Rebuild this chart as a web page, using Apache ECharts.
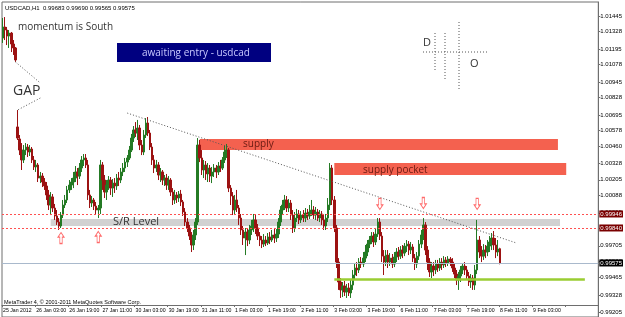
<!DOCTYPE html>
<html>
<head>
<meta charset="utf-8">
<script src="https://cdn.jsdelivr.net/npm/echarts@6/dist/echarts.min.js"></script>
<style>
  html, body { margin: 0; padding: 0; background: #fff; }
  #chart-container { width: 625px; height: 317px; }
</style>
</head>
<body>
<div id="chart-container"></div>
<script>
var dom = document.getElementById("chart-container");
var myChart = echarts.init(dom, null, { renderer: "canvas", useDirtyRect: false });

// header of the MT4 window: symbol, period and OHLC of the last bar
const header = "USDCAD,H1  0.99683 0.99690 0.99565 0.99575";

// time scale labels, one every 16 hourly bars (the last one sits in the shift area)
const tickLabels = [
  "25 Jan 2012", "26 Jan 03:00", "26 Jan 19:00", "27 Jan 11:00", "30 Jan 03:00",
  "30 Jan 19:00", "31 Jan 11:00", "1 Feb 03:00", "1 Feb 19:00", "2 Feb 11:00",
  "3 Feb 03:00", "3 Feb 19:00", "6 Feb 11:00", "7 Feb 03:00", "7 Feb 19:00",
  "8 Feb 11:00", "9 Feb 03:00"
];

// price scale labels
const priceLabels = [
  1.01445, 1.01328, 1.01195, 1.01078, 1.00945, 1.00828, 1.00695, 1.00578, 1.00460,
  1.00328, 1.00205, 1.00088, 0.99955, 0.99838, 0.99705, 0.99588, 0.99465, 0.99328, 0.99205
];

// H1 bars: [open, close, low, high]
const ohlc = [
  [1.01278, 1.01362, 1.01241, 1.01430], [1.01362, 1.01339, 1.01263, 1.01437],
  [1.01339, 1.01293, 1.01225, 1.01362], [1.01293, 1.01316, 1.01203, 1.01339],
  [1.01316, 1.01233, 1.01172, 1.01324], [1.01233, 1.01203, 1.01150, 1.01263],
  [1.01203, 1.01112, 1.01097, 1.01210], [1.00605, 1.00521, 1.00506, 1.00733],
  [1.00514, 1.00430, 1.00392, 1.00544], [1.00430, 1.00355, 1.00279, 1.00483],
  // 10
  [1.00355, 1.00430, 1.00332, 1.00468], [1.00430, 1.00453, 1.00392, 1.00483],
  [1.00453, 1.00415, 1.00377, 1.00476], [1.00415, 1.00438, 1.00385, 1.00468],
  [1.00438, 1.00355, 1.00332, 1.00453], [1.00355, 1.00302, 1.00279, 1.00385],
  [1.00302, 1.00317, 1.00264, 1.00355], [1.00317, 1.00218, 1.00188, 1.00332],
  [1.00218, 1.00233, 1.00180, 1.00264], [1.00233, 1.00188, 1.00150, 1.00256],
  // 20
  [1.00188, 1.00158, 1.00128, 1.00218], [1.00158, 1.00090, 1.00052, 1.00188],
  [1.00090, 1.00014, 0.99976, 1.00128], [1.00014, 1.00075, 0.99938, 1.00112],
  [1.00075, 0.99991, 0.99961, 1.00097], [0.99991, 0.99931, 0.99901, 1.00022],
  [0.99931, 0.99885, 0.99863, 0.99976], [0.99885, 0.99855, 0.99825, 0.99915],
  [0.99855, 0.99938, 0.99840, 0.99961], [0.99938, 1.00014, 0.99915, 1.00052],
  // 30
  [1.00014, 1.00052, 0.99991, 1.00090], [1.00052, 1.00128, 1.00029, 1.00158],
  [1.00128, 1.00165, 1.00105, 1.00203], [1.00165, 1.00188, 1.00128, 1.00218],
  [1.00188, 1.00218, 1.00142, 1.00264], [1.00218, 1.00264, 1.00188, 1.00309],
  [1.00264, 1.00233, 1.00165, 1.00294], [1.00233, 1.00294, 1.00211, 1.00332],
  [1.00294, 1.00355, 1.00264, 1.00385], [1.00355, 1.00370, 1.00309, 1.00400],
  // 40
  [1.00370, 1.00317, 1.00294, 1.00400], [1.00317, 1.00090, 1.00052, 1.00355],
  [1.00090, 1.00029, 0.99991, 1.00128], [1.00029, 1.00052, 0.99999, 1.00082],
  [1.00052, 1.00006, 0.99976, 1.00067], [1.00006, 0.99976, 0.99946, 1.00037],
  [0.99976, 0.99991, 0.99915, 1.00014], [0.99991, 1.00317, 0.99946, 1.00355],
  [1.00317, 1.00203, 1.00128, 1.00339], [1.00203, 1.00112, 1.00067, 1.00241],
  // 50
  [1.00112, 1.00165, 1.00052, 1.00203], [1.00165, 1.00203, 1.00128, 1.00233],
  [1.00203, 1.00142, 1.00090, 1.00226], [1.00142, 1.00180, 1.00075, 1.00211],
  [1.00180, 1.00158, 1.00105, 1.00218], [1.00158, 1.00218, 1.00128, 1.00249],
  [1.00218, 1.00203, 1.00158, 1.00264], [1.00203, 1.00264, 1.00180, 1.00294],
  [1.00264, 1.00294, 1.00233, 1.00332], [1.00294, 1.00339, 1.00264, 1.00370],
  // 60
  [1.00339, 1.00370, 1.00302, 1.00392], [1.00370, 1.00430, 1.00355, 1.00461],
  [1.00430, 1.00521, 1.00415, 1.00552], [1.00521, 1.00582, 1.00491, 1.00612],
  [1.00582, 1.00559, 1.00529, 1.00642], [1.00559, 1.00597, 1.00506, 1.00658],
  [1.00597, 1.00468, 1.00430, 1.00620], [1.00468, 1.00415, 1.00392, 1.00506],
  [1.00415, 1.00544, 1.00392, 1.00582], [1.00544, 1.00635, 1.00521, 1.00672],
  // 70
  [1.00635, 1.00559, 1.00536, 1.00680], [1.00559, 1.00453, 1.00430, 1.00582],
  [1.00453, 1.00355, 1.00317, 1.00483], [1.00355, 1.00294, 1.00256, 1.00392],
  [1.00294, 1.00317, 1.00264, 1.00355], [1.00317, 1.00241, 1.00203, 1.00339],
  [1.00241, 1.00264, 1.00188, 1.00294], [1.00264, 1.00203, 1.00165, 1.00279],
  [1.00203, 1.00218, 1.00158, 1.00241], [1.00218, 1.00165, 1.00128, 1.00249],
  // 80
  [1.00165, 1.00203, 1.00128, 1.00233], [1.00203, 1.00112, 1.00082, 1.00218],
  [1.00112, 1.00052, 1.00014, 1.00142], [1.00052, 1.00090, 1.00022, 1.00128],
  [1.00090, 1.00067, 1.00029, 1.00112], [1.00067, 1.00097, 1.00037, 1.00120],
  [1.00097, 1.00037, 1.00006, 1.00128], [1.00037, 0.99961, 0.99931, 1.00052],
  [0.99961, 0.99885, 0.99855, 0.99991], [0.99885, 0.99840, 0.99809, 0.99915],
  // 90
  [0.99840, 0.99779, 0.99749, 0.99863], [0.99779, 0.99711, 0.99658, 0.99809],
  [0.99711, 0.99787, 0.99673, 0.99825], [0.99787, 0.99885, 0.99749, 0.99915],
  [0.99885, 1.00468, 0.99863, 1.00521], [1.00468, 1.00370, 1.00339, 1.00506],
  [1.00370, 1.00279, 1.00241, 1.00430], [1.00279, 1.00317, 1.00218, 1.00355],
  [1.00317, 1.00249, 1.00203, 1.00347], [1.00249, 1.00294, 1.00188, 1.00332],
  // 100
  [1.00294, 1.00233, 1.00188, 1.00317], [1.00233, 1.00264, 1.00180, 1.00302],
  [1.00264, 1.00294, 1.00226, 1.00324], [1.00294, 1.00264, 1.00218, 1.00317],
  [1.00264, 1.00309, 1.00241, 1.00339], [1.00309, 1.00294, 1.00264, 1.00355],
  [1.00294, 1.00355, 1.00279, 1.00377], [1.00355, 1.00415, 1.00332, 1.00461],
  [1.00415, 1.00430, 1.00370, 1.00476], [1.00430, 1.00142, 1.00112, 1.00445],
  // 110
  [1.00142, 1.00082, 1.00014, 1.00165], [1.00082, 0.99976, 0.99938, 1.00112],
  [0.99976, 1.00052, 0.99938, 1.00090], [1.00052, 0.99991, 0.99961, 1.00128],
  [0.99991, 0.99915, 0.99863, 1.00014], [0.99915, 0.99825, 0.99787, 0.99946],
  [0.99825, 0.99764, 0.99711, 0.99855], [0.99764, 0.99809, 0.99635, 0.99840],
  [0.99809, 0.99749, 0.99703, 0.99840], [0.99749, 0.99825, 0.99718, 0.99863],
  // 120
  [0.99825, 0.99855, 0.99787, 0.99901], [0.99855, 0.99901, 0.99809, 0.99946],
  [0.99901, 0.99840, 0.99794, 0.99938], [0.99840, 0.99779, 0.99749, 0.99870],
  [0.99779, 0.99749, 0.99703, 0.99809], [0.99749, 0.99718, 0.99688, 0.99779],
  [0.99718, 0.99749, 0.99696, 0.99794], [0.99749, 0.99726, 0.99703, 0.99779],
  [0.99726, 0.99772, 0.99711, 0.99802], [0.99772, 0.99749, 0.99718, 0.99809],
  // 130
  [0.99749, 0.99787, 0.99734, 0.99825], [0.99787, 0.99764, 0.99726, 0.99840],
  [0.99764, 0.99794, 0.99734, 0.99832], [0.99794, 0.99885, 0.99764, 0.99915],
  [0.99885, 0.99976, 0.99855, 1.00006], [0.99976, 1.00014, 0.99938, 1.00052],
  [1.00014, 1.00052, 0.99976, 1.00090], [1.00052, 0.99991, 0.99961, 1.00082],
  [0.99991, 1.00029, 0.99961, 1.00059], [1.00029, 0.99938, 0.99901, 1.00052],
  // 140
  [0.99938, 0.99840, 0.99802, 0.99976], [0.99840, 0.99915, 0.99809, 0.99961],
  [0.99915, 0.99946, 0.99885, 0.99984], [0.99946, 0.99901, 0.99870, 0.99976],
  [0.99901, 0.99938, 0.99878, 0.99968], [0.99938, 0.99915, 0.99885, 0.99976],
  [0.99915, 0.99953, 0.99885, 0.99991], [0.99953, 0.99931, 0.99901, 0.99984],
  [0.99931, 0.99961, 0.99908, 1.00014], [0.99961, 0.99976, 0.99931, 1.00052],
  // 150
  [0.99976, 0.99938, 0.99908, 1.00006], [0.99938, 0.99961, 0.99901, 0.99999],
  [0.99961, 0.99915, 0.99893, 0.99984], [0.99915, 0.99946, 0.99885, 0.99976],
  [0.99946, 0.99901, 0.99863, 0.99968], [0.99901, 0.99855, 0.99825, 0.99938],
  [0.99855, 0.99915, 0.99825, 0.99946], [0.99915, 1.00014, 0.99885, 1.00067],
  [1.00014, 1.00294, 0.99976, 1.00332], [1.00294, 1.00052, 1.00014, 1.00317],
  // 160
  [1.00052, 0.99840, 0.99809, 1.00082], [0.99840, 0.99582, 0.99537, 0.99863],
  [0.99582, 0.99431, 0.99371, 0.99612], [0.99431, 0.99371, 0.99310, 0.99461],
  [0.99371, 0.99401, 0.99317, 0.99431], [0.99401, 0.99355, 0.99325, 0.99439],
  [0.99355, 0.99386, 0.99310, 0.99416], [0.99386, 0.99348, 0.99325, 0.99423],
  [0.99348, 0.99408, 0.99310, 0.99446], [0.99408, 0.99484, 0.99371, 0.99522],
  // 170
  [0.99484, 0.99537, 0.99446, 0.99575], [0.99537, 0.99522, 0.99476, 0.99582],
  [0.99522, 0.99582, 0.99499, 0.99612], [0.99582, 0.99567, 0.99537, 0.99620],
  [0.99567, 0.99612, 0.99544, 0.99658], [0.99612, 0.99658, 0.99582, 0.99711],
  [0.99658, 0.99718, 0.99627, 0.99749], [0.99718, 0.99749, 0.99688, 0.99779],
  [0.99749, 0.99779, 0.99718, 0.99809], [0.99779, 0.99734, 0.99696, 0.99809],
  // 180
  [0.99734, 0.99794, 0.99711, 0.99840], [0.99794, 0.99885, 0.99772, 0.99915],
  [0.99885, 0.99779, 0.99749, 0.99915], [0.99779, 0.99627, 0.99582, 0.99809],
  [0.99627, 0.99582, 0.99484, 0.99673], [0.99582, 0.99635, 0.99552, 0.99673],
  [0.99635, 0.99582, 0.99537, 0.99673], [0.99582, 0.99612, 0.99552, 0.99650],
  [0.99612, 0.99567, 0.99537, 0.99643], [0.99567, 0.99620, 0.99544, 0.99658],
  // 190
  [0.99620, 0.99658, 0.99582, 0.99688], [0.99658, 0.99627, 0.99598, 0.99696],
  [0.99627, 0.99673, 0.99605, 0.99703], [0.99673, 0.99650, 0.99612, 0.99711],
  [0.99650, 0.99703, 0.99627, 0.99726], [0.99703, 0.99718, 0.99658, 0.99749],
  [0.99718, 0.99673, 0.99635, 0.99741], [0.99673, 0.99696, 0.99643, 0.99734],
  [0.99696, 0.99612, 0.99582, 0.99718], [0.99612, 0.99567, 0.99522, 0.99643],
  // 200
  [0.99567, 0.99627, 0.99537, 0.99658], [0.99627, 0.99718, 0.99598, 0.99749],
  [0.99718, 0.99787, 0.99688, 0.99825], [0.99787, 0.99863, 0.99749, 0.99915],
  [0.99863, 0.99673, 0.99635, 0.99885], [0.99673, 0.99582, 0.99522, 0.99703],
  [0.99582, 0.99507, 0.99469, 0.99612], [0.99507, 0.99552, 0.99461, 0.99582],
  [0.99552, 0.99522, 0.99476, 0.99582], [0.99522, 0.99567, 0.99491, 0.99598],
  // 210
  [0.99567, 0.99537, 0.99507, 0.99598], [0.99537, 0.99582, 0.99514, 0.99612],
  [0.99582, 0.99560, 0.99522, 0.99612], [0.99560, 0.99598, 0.99537, 0.99627],
  [0.99598, 0.99575, 0.99544, 0.99620], [0.99575, 0.99605, 0.99552, 0.99627],
  [0.99605, 0.99582, 0.99552, 0.99620], [0.99582, 0.99537, 0.99507, 0.99612],
  [0.99537, 0.99491, 0.99461, 0.99567], [0.99491, 0.99446, 0.99408, 0.99522],
  // 220
  [0.99446, 0.99476, 0.99371, 0.99507], [0.99476, 0.99522, 0.99431, 0.99552],
  [0.99522, 0.99552, 0.99491, 0.99575], [0.99552, 0.99522, 0.99484, 0.99582],
  [0.99522, 0.99476, 0.99446, 0.99552], [0.99476, 0.99431, 0.99401, 0.99507],
  [0.99431, 0.99461, 0.99386, 0.99491], [0.99461, 0.99408, 0.99371, 0.99484],
  [0.99408, 0.99522, 0.99371, 0.99560], [0.99522, 0.99749, 0.99491, 0.99901],
  // 230
  [0.99749, 0.99658, 0.99612, 0.99779], [0.99658, 0.99627, 0.99582, 0.99703],
  [0.99627, 0.99673, 0.99598, 0.99718], [0.99673, 0.99658, 0.99612, 0.99711],
  [0.99658, 0.99703, 0.99627, 0.99749], [0.99703, 0.99734, 0.99658, 0.99779],
  [0.99734, 0.99764, 0.99673, 0.99802], [0.99764, 0.99711, 0.99673, 0.99817],
  [0.99711, 0.99658, 0.99612, 0.99764], [0.99658, 0.99681, 0.99627, 0.99749],
  // 240
  [0.99683, 0.99575, 0.99565, 0.99690]
];

// drawn objects, in bar index / price
const levelLines = [0.99946, 0.99840];
const bidPrice = 0.99575;
const supplyZone = [95, 268, 1.00514, 1.00430];
const pocketZone = [160, 272, 1.00332, 1.00241];
const srZone = [23, 269, 0.99908, 0.99855];
const supportLine = [160, 281, 0.99450];
const trendLine = [[60, 1.00710], [248, 0.99726]];
const gapLines = [[[6, 1.01097], [18, 1.00938]], [[18, 1.00824], [7, 1.00733]]];
const upArrows = [[28, 0.99764], [46, 0.99772]];
const downArrows = [[182, 1.00022], [203, 1.00029], [229, 1.00022]];

const slotCount = 288; // bars + empty chart shift on the right
const slots = [];
for (let i = 0; i < slotCount; i++) slots.push(String(i));

const every16 = (i) => i % 16 === 0;
const smallFont = "Liberation Sans";
const noteFont = "Open Sans";

const arrowPath = "path://M5,0 L10,5 L7,5 L7,12 L3,12 L3,5 L0,5 Z";

function zone(z, color) {
  return [
    { coord: [z[0], z[2]], itemStyle: { color: color } },
    { coord: [z[1], z[3]] }
  ];
}

function text(x, y, str, size, color, family) {
  return {
    type: "text", x: x, y: y, z: 100,
    style: { text: str, fontSize: size, fontFamily: family || noteFont, fill: color, verticalAlign: "middle" }
  };
}

function dotted(x1, y1, x2, y2) {
  return {
    type: "line", z: 100,
    shape: { x1: x1, y1: y1, x2: x2, y2: y2 },
    style: { stroke: "#555", lineWidth: 1, lineDash: [1, 2] }
  };
}

const priceLineLabel = (bg) => ({
  show: true, position: "end", distance: 1,
  formatter: (p) => Number(p.value).toFixed(5),
  backgroundColor: bg, color: "#fff", fontSize: 6, fontFamily: smallFont,
  padding: [1, 1, 0, 1]
});

var option = {
  animation: false,
  backgroundColor: "#fff",
  grid: { left: 2, right: 18, top: 2, bottom: 0, show: true, borderColor: "#6e6e6e", borderWidth: 1 },
  xAxis: {
    type: "category",
    data: slots,
    boundaryGap: true,
    offset: -12,
    axisLine: { show: true, lineStyle: { color: "#6e6e6e" } },
    axisTick: { show: true, interval: every16, length: 2, lineStyle: { color: "#6e6e6e" } },
    axisLabel: {
      interval: every16,
      formatter: (v, i) => tickLabels[i / 16] || "",
      align: "left", fontSize: 5.2, fontFamily: smallFont, color: "#000", margin: 3
    },
    splitLine: { show: false }
  },
  yAxis: {
    type: "value",
    position: "right",
    min: 0.99166,
    max: 1.01551,
    axisLine: { show: true, lineStyle: { color: "#6e6e6e" } },
    axisTick: { show: true, customValues: priceLabels, length: 2, lineStyle: { color: "#6e6e6e" } },
    axisLabel: {
      customValues: priceLabels,
      formatter: (v) => v.toFixed(5),
      fontSize: 6, fontFamily: smallFont, color: "#000", margin: 2
    },
    splitLine: { show: false }
  },
  series: [
    {
      type: "candlestick",
      data: ohlc,
      barWidth: 2,
      itemStyle: {
        color: "#247a24", color0: "#9c1212",
        borderColor: "#247a24", borderColor0: "#9c1212", borderWidth: 1
      },
      markArea: {
        silent: true,
        data: [
          zone(supplyZone, "#f4614f"),
          zone(pocketZone, "#f4614f"),
          zone(srZone, "#d2d2d2")
        ]
      },
      markLine: {
        silent: true,
        symbol: "none",
        precision: 5,
        label: { show: false },
        data: [
          { yAxis: levelLines[0], lineStyle: { color: "#ff5050", type: [2, 2], width: 1 }, label: priceLineLabel("#7a0000") },
          { yAxis: levelLines[1], lineStyle: { color: "#ff5050", type: [2, 2], width: 1 }, label: priceLineLabel("#7a0000") },
          { yAxis: bidPrice, lineStyle: { color: "#a9b9cc", type: "solid", width: 1 }, label: priceLineLabel("#000") },
          [
            { coord: [supportLine[0], supportLine[2]], lineStyle: { color: "#9acd32", type: "solid", width: 2.5 } },
            { coord: [supportLine[1], supportLine[2]] }
          ],
          [
            { coord: trendLine[0], lineStyle: { color: "#555", type: [1, 2], width: 1 } },
            { coord: trendLine[1] }
          ],
          [
            { coord: gapLines[0][0], lineStyle: { color: "#555", type: [1, 2], width: 1 } },
            { coord: gapLines[0][1] }
          ],
          [
            { coord: gapLines[1][0], lineStyle: { color: "#555", type: [1, 2], width: 1 } },
            { coord: gapLines[1][1] }
          ]
        ]
      },
      markPoint: {
        silent: true,
        symbol: arrowPath,
        symbolSize: [6, 11],
        label: { show: false },
        itemStyle: { color: "#fff", borderColor: "#ff6a6a", borderWidth: 1 },
        data: upArrows.map((c) => ({ coord: c }))
          .concat(downArrows.map((c) => ({ coord: c, symbolRotate: 180 })))
      }
    }
  ],
  graphic: [
    text(5, 8, header, 6, "#000", smallFont),
    text(18, 27, "momentum is South", 10, "#333"),
    { type: "rect", z: 99, shape: { x: 117, y: 43, width: 154, height: 19 }, style: { fill: "#000080" } },
    text(142, 53, "awaiting entry - usdcad", 10, "#c8c8ff"),
    text(13, 91, "GAP", 14, "#333"),
    text(423, 43, "D", 11, "#333"),
    text(470, 64, "O", 11, "#333"),
    dotted(423, 52, 487, 52),
    dotted(435, 33, 435, 70),
    dotted(445, 33, 445, 80),
    dotted(459, 22, 459, 90),
    text(243, 144, "supply", 10, "#6a1a12"),
    text(363, 170, "supply pocket", 10, "#6a1a12"),
    text(113, 222, "S/R Level", 11, "#333"),
    text(4, 302, "MetaTrader 4, \u00a9 2001-2011 MetaQuotes Software Corp.", 5.5, "#000", smallFont)
  ]
};

if (option && typeof option === "object") {
  myChart.setOption(option);
}

window.addEventListener("resize", myChart.resize);
</script>
</body>
</html>
